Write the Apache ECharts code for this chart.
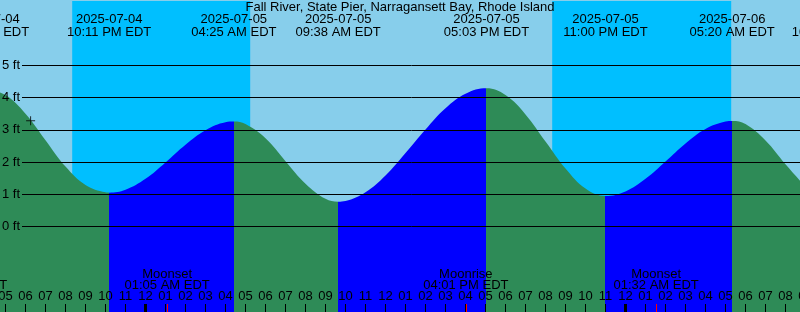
<!DOCTYPE html>
<html><head><meta charset="utf-8">
<script src="https://cdn.jsdelivr.net/npm/echarts@6/dist/echarts.min.js"></script>
<style>html,body{margin:0;padding:0;background:#87CEEB}#c{width:800px;height:312px}</style>
</head><body><div id="c"></div>
<script>
const chartTitle = 'Fall River, State Pier, Narragansett Bay, Rhode Island';
// hours from midnight 2025-07-05 EDT, tide height in feet
const tideHours = [-7.95, -7, -6, -5, -4, -3, -2, -1.817, -1, 0, 1, 2, 3, 4, 4.417, 5, 6, 7, 8, 9, 9.633, 10, 11, 12, 13, 14, 15, 16, 17.05, 18, 19, 20, 21, 22, 23, 24, 25, 26, 27, 28, 29, 29.333, 30, 31, 32, 33];
const tideFeet  = [4.27, 4.08, 3.50, 2.68, 1.86, 1.29, 1.06, 1.05, 1.14, 1.48, 1.99, 2.54, 2.99, 3.24, 3.26, 3.18, 2.74, 2.03, 1.33, 0.86, 0.77, 0.79, 1.06, 1.58, 2.28, 3.01, 3.67, 4.12, 4.29, 4.08, 3.48, 2.64, 1.80, 1.18, 0.95, 1.09, 1.48, 2.02, 2.58, 3.03, 3.26, 3.28, 3.18, 2.67, 1.93, 1.23];
const extremeHours = [-7.95, -1.817, 4.417, 9.633, 17.05, 23.0, 29.333, 34.45];
const extremeFeet  = [4.27, 1.05, 3.26, 0.77, 4.29, 0.95, 3.28, 0.80];
const extremeDates = ['2025-07-04', '2025-07-04', '2025-07-05', '2025-07-05', '2025-07-05', '2025-07-05', '2025-07-06', '2025-07-06'];
const extremeClock = ['04:03 PM EDT', '10:11 PM EDT', '04:25 AM EDT', '09:38 AM EDT', '05:03 PM EDT', '11:00 PM EDT', '05:20 AM EDT', '10:27 AM EDT'];
const nightStart = [-3.665, 20.335];
const nightEnd   = [5.235, 29.285];
const moonHours  = [-9.05, 1.083, 16.017, 25.533];
const moonEvents = ['Moonrise', 'Moonset', 'Moonrise', 'Moonset'];
const moonClock  = ['02:57 PM EDT', '01:05 AM EDT', '04:01 PM EDT', '01:32 AM EDT'];
const midnightHours = [0, 24];
const levelTicks = [0, 1, 2, 3, 4, 5];
const nowMark = [-5.745, 3.286];

const SKY_NIGHT = '#00BFFF', FALL = '#2E8B57', RISE = '#0000FF';
const FONT = 'Liberation Sans';
const FONT_CSS = '13px "Liberation Sans"';

function hourLabel(v) {
  const h = ((Math.round(v) % 24) + 24) % 24;
  const h12 = h % 12 === 0 ? 12 : h % 12;
  return String(h12).padStart(2, '0');
}

const pieces = [{ lt: extremeHours[0], color: RISE }];
for (let i = 0; i < extremeHours.length - 1; i++) {
  pieces.push({ gte: extremeHours[i], lt: extremeHours[i + 1], color: extremeFeet[i] > extremeFeet[i + 1] ? FALL : RISE });
}
pieces.push({ gte: extremeHours[extremeHours.length - 1], color: RISE });

const chart = echarts.init(document.getElementById('c'), null, { renderer: 'canvas' });
chart.setOption({
  animation: false,
  backgroundColor: '#87CEEB',
  grid: [
    { left: -14.5, right: -5.5, top: 1.1, bottom: -11.1, containLabel: false, outerBoundsMode: 'none' },
    { left: -14.5, right: -5.5, top: 0, bottom: 0, containLabel: false, outerBoundsMode: 'none' }
  ],
  xAxis: [
    { type: 'value', gridIndex: 0, min: -8, max: 33, interval: 1, show: false },
    {
      type: 'value', gridIndex: 1, min: -8, max: 33, interval: 1, position: 'bottom', z: 6,
      axisLine: { show: false }, splitLine: { show: false },
      axisTick: { show: true, inside: true, length: 8, lineStyle: { color: '#000', width: 1 } },
      axisLabel: { show: true, inside: true, margin: 9, interval: 0, color: '#000', fontFamily: FONT, fontSize: 13, formatter: hourLabel, showMinLabel: true, showMaxLabel: true, hideOverlap: false }
    }
  ],
  yAxis: [
    { type: 'value', gridIndex: 0, min: -3, max: 7, show: false },
    { type: 'value', gridIndex: 1, min: 0, max: 1, show: false }
  ],
  visualMap: { show: false, type: 'piecewise', dimension: 0, seriesIndex: 1, pieces: pieces },
  series: [
    {
      type: 'line', data: [], z: 1, silent: true,
      markArea: { silent: true, label: { show: false }, itemStyle: { color: SKY_NIGHT, opacity: 1 },
        data: nightStart.map((s, i) => [{ xAxis: s }, { xAxis: nightEnd[i] }]) }
    },
    {
      type: 'line', z: 2, silent: true, smooth: 0.4, symbol: 'none',
      data: tideHours.map((h, i) => [h, tideFeet[i]]),
      lineStyle: { width: 0 },
      areaStyle: { opacity: 1, origin: 'start' }
    },
    {
      type: 'scatter', z: 4, silent: true,
      data: [nowMark],
      symbol: 'path://M4,0h1v4h4v1h-4v4h-1v-4h-4v-1h4z', symbolSize: 9,
      itemStyle: { color: '#000' },
      markLine: {
        silent: true, symbol: ['none', 'none'],
        lineStyle: { color: '#000', width: 1, type: 'solid' },
        label: { show: true, position: 'start', distance: 2, color: '#000', fontFamily: FONT, fontSize: 13, formatter: '{b}' },
        data: levelTicks.map(v => [{ coord: [-6.175, v], name: v + ' ft' }, { coord: [33, v] }])
      }
    }
  ]
});

const px = h => chart.convertToPixel({ xAxisIndex: 0 }, h);
function txt(x, y, s) {
  return { type: 'text', x: x, y: y, z: 10, silent: true,
    style: { text: s, font: FONT_CSS, fill: '#000', textAlign: 'center', textVerticalAlign: 'middle', align: 'center', verticalAlign: 'middle' } };
}
const g = [txt(400, 7.3, chartTitle)];
extremeHours.forEach((h, i) => {
  const x = px(h);
  g.push(txt(x, 19.6, extremeDates[i]));
  g.push(txt(x, 32.4, extremeClock[i]));
});
moonHours.forEach((h, i) => {
  const x = px(h);
  g.push(txt(x, 274.1, moonEvents[i]));
  g.push(txt(x, 285.4, moonClock[i]));
  g.push({ type: 'rect', z: 11, silent: true, shape: { x: Math.round(x), y: 304, width: 1, height: 8 }, style: { fill: '#FF0000' } });
});
midnightHours.forEach(h => {
  const x = px(h);
  g.push({ type: 'rect', z: 11, silent: true, shape: { x: Math.round(x - 1.5), y: 304, width: 3, height: 8 }, style: { fill: '#000' } });
});
chart.setOption({ graphic: g });
</script>
</body></html>
